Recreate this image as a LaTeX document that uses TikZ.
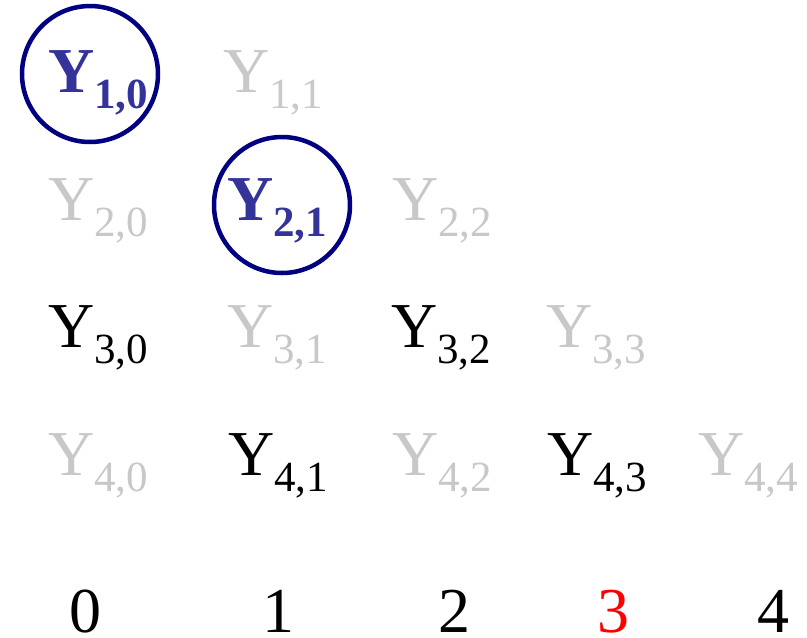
\documentclass[tikz,border=0pt]{standalone}
\usepackage{fontspec}
\setmainfont{Liberation Serif}
\definecolor{faint}{RGB}{200,200,200}
\definecolor{hilite}{RGB}{51,51,153}
\definecolor{ring}{RGB}{0,0,128}
\newcommand{\yterm}[2]{\fontsize{64}{70}\selectfont Y\raisebox{-16pt}{\fontsize{43}{46}\selectfont #1,#2}}
\newcommand{\ytermbold}[2]{\fontsize{64}{70}\selectfont\bfseries Y\raisebox{-16pt}{\fontsize{43}{46}\selectfont\bfseries #1,#2}}
\begin{document}
\begin{tikzpicture}[x=1pt,y=-1pt,
  term/.style={anchor=base west,inner sep=0pt,outer sep=0pt},
  dim/.style={term,text=faint},
  live/.style={term,text=black},
  picked/.style={term,text=hilite},
  ringmark/.style={draw=ring,line width=4.5pt,circle,minimum size=136pt,inner sep=0pt},
  idx/.style={anchor=base,inner sep=0pt,text depth=0pt,font=\fontsize{64}{70}\selectfont}]
\useasboundingbox (0,0) rectangle (807,638);
% row 1
\node[picked] (y10) at (48,92) {\ytermbold{1}{0}};
\node[dim] (y11) at (223,92) {\yterm{1}{1}};
% row 2
\node[dim] (y20) at (48,220) {\yterm{2}{0}};
\node[picked] (y21) at (227,220) {\ytermbold{2}{1}};
\node[dim] (y22) at (392,220) {\yterm{2}{2}};
% row 3
\node[live] (y30) at (48,347) {\yterm{3}{0}};
\node[dim] (y31) at (227,347) {\yterm{3}{1}};
\node[live] (y32) at (391,347) {\yterm{3}{2}};
\node[dim] (y33) at (546,347) {\yterm{3}{3}};
% row 4
\node[dim] (y40) at (48,475) {\yterm{4}{0}};
\node[live] (y41) at (228,475) {\yterm{4}{1}};
\node[dim] (y42) at (392,475) {\yterm{4}{2}};
\node[live] (y43) at (547,475) {\yterm{4}{3}};
\node[dim] (y44) at (698,475) {\yterm{4}{4}};
% rings
\node[ringmark] (c10) at (90,74) {};
\node[ringmark] (c21) at (282,205) {};
% index row
\node[idx] (n0) at (85.5,632) {0};
\node[idx] (n1) at (278,632) {1};
\node[idx] (n2) at (454,632) {2};
\node[idx,text=red] (n3) at (613,632) {3};
\node[idx] (n4) at (773,632) {4};
\end{tikzpicture}
\end{document}
